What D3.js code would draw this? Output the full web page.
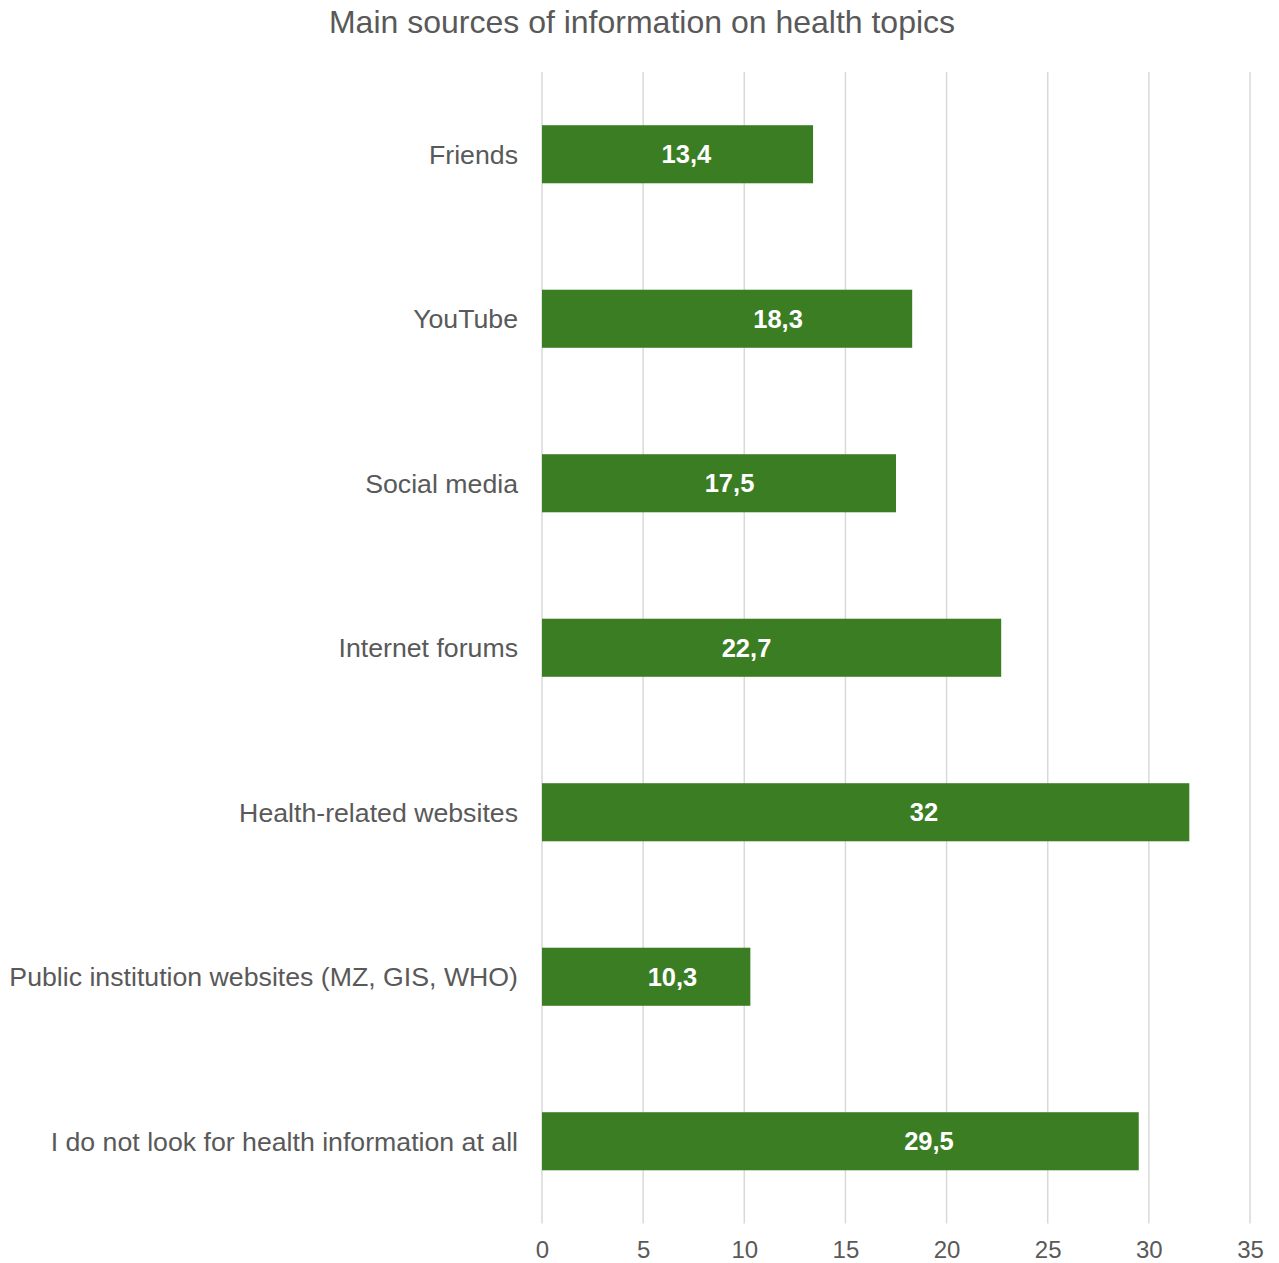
<!DOCTYPE html>
<html><head><meta charset="utf-8">
<script src="https://cdn.jsdelivr.net/npm/d3@7"></script>
<style>html,body{margin:0;padding:0;background:#fff;}</style>
</head><body>
<svg id="chart" width="1279" height="1263"></svg>
<script>
const titleText = "Main sources of information on health topics";
const categories = ["Friends","YouTube","Social media","Internet forums","Health-related websites","Public institution websites (MZ, GIS, WHO)","I do not look for health information at all"];
const values = [13.4, 18.3, 17.5, 22.7, 32, 10.3, 29.5];
const valueLabels = ["13,4","18,3","17,5","22,7","32","10,3","29,5"];
const labelAt = [7.14, 11.67, 9.27, 10.11, 18.88, 6.45, 19.13];
const ticks = [0,5,10,15,20,25,30,35];

const svg = d3.select("#chart");
const textColor = "#595959";
const font = "'Liberation Sans', Arial, sans-serif";

const x = d3.scaleLinear().domain([0,35]).range([542,1250]);
const y = d3.scaleBand().domain(categories).range([72,1223.5]).paddingInner(0.647).paddingOuter(0.3235);

// gridlines
svg.append("g").selectAll("line").data(ticks).join("line")
  .attr("x1", d=>x(d)).attr("x2", d=>x(d))
  .attr("y1", 72).attr("y2", 1223.5)
  .attr("stroke", "#d9d9d9").attr("stroke-width", 1.5);

// bars
svg.append("g").selectAll("rect").data(values).join("rect")
  .attr("x", x(0))
  .attr("y", (d,i)=>y(categories[i]))
  .attr("width", d=>x(d)-x(0))
  .attr("height", y.bandwidth())
  .attr("fill", "#3b7d23");

// data labels
svg.append("g").selectAll("text").data(valueLabels).join("text")
  .attr("x", (d,i)=>x(labelAt[i]))
  .attr("y", (d,i)=>y(categories[i]) + y.bandwidth()/2)
  .attr("dy", "0.35em")
  .attr("text-anchor", "middle")
  .attr("font-family", font).attr("font-weight", "bold").attr("font-size", 25.5)
  .attr("fill", "#ffffff")
  .text(d=>d);

// category labels
const yAxis = d3.axisLeft(y).tickSize(0).tickPadding(24);
const gy = svg.append("g").attr("transform", `translate(${x(0)},0)`).call(yAxis);
gy.select(".domain").remove();
gy.selectAll("text").attr("font-family", font).attr("font-size", 26.7).attr("fill", textColor).attr("dy","0.35em");

// x tick labels
const xAxis = d3.axisBottom(x).tickValues(ticks).tickSize(0).tickPadding(0).tickFormat(d3.format("d"));
const gx = svg.append("g").attr("transform", `translate(0,1258)`).call(xAxis);
gx.select(".domain").remove();
gx.selectAll("text").attr("font-family", font).attr("font-size", 24).attr("fill", textColor).attr("dy", 0).attr("y", 0);

// title
svg.append("text").attr("x", 642).attr("y", 33)
  .attr("text-anchor","middle")
  .attr("font-family", font).attr("font-size", 32).attr("fill", textColor)
  .text(titleText);
</script>
</body></html>
